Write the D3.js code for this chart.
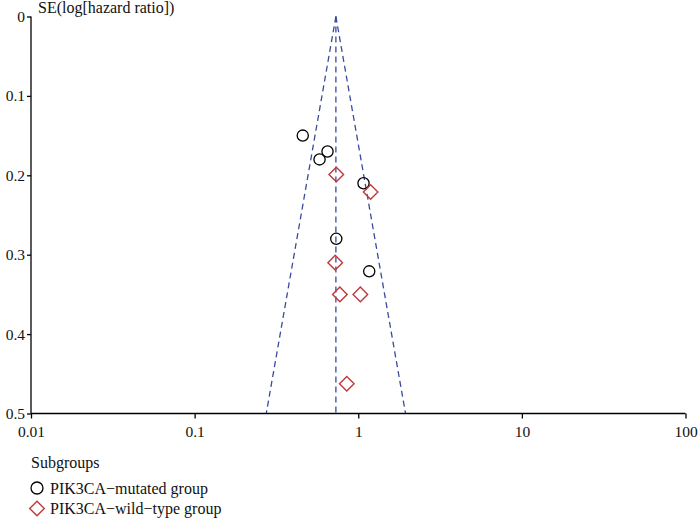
<!DOCTYPE html>
<html><head><meta charset="utf-8">
<script src="https://cdn.jsdelivr.net/npm/d3@7"></script>
<style>body{margin:0;background:#fff}svg{display:block}text{font-family:"Liberation Serif","DejaVu Serif",serif;fill:#111}</style>
</head><body><svg id="c" width="698" height="519"></svg>
<script>
const xTicks = [0.01, 0.1, 1, 10, 100];
const yTicks = [0, 0.1, 0.2, 0.3, 0.4, 0.5];
const pooledHR = 0.73;
const mutatedHR = [0.458, 0.649, 0.580, 1.077, 0.734, 1.167];
const mutatedSE = [0.150, 0.170, 0.180, 0.210, 0.280, 0.321];
const wildHR = [0.734, 1.19, 0.723, 0.772, 1.03, 0.851];
const wildSE = [0.199, 0.221, 0.310, 0.350, 0.350, 0.4625];
const legendLabels = ["PIK3CA\u2212mutated group", "PIK3CA\u2212wild\u2212type group"];

const svg = d3.select("#c");
const x = d3.scaleLog().domain([0.01, 100]).range([31, 685.5]);
const y = d3.scaleLinear().domain([0, 0.5]).range([16.5, 413.5]);

// funnel
const seMax = 0.5;
const funnel = [
  [[pooledHR, 0], [pooledHR * Math.exp(-1.96 * seMax), seMax]],
  [[pooledHR, 0], [pooledHR * Math.exp(1.96 * seMax), seMax]],
  [[pooledHR, 0], [pooledHR, seMax]]
];
const line = d3.line().x(d => x(d[0])).y(d => y(d[1]));
svg.append("g").selectAll("path").data(funnel).join("path")
  .attr("d", line).attr("fill", "none").attr("stroke", "#3b4a9c")
  .attr("stroke-width", 1.3).attr("stroke-dasharray", "6,4");

// axes
const yAxis = d3.axisLeft(y).tickValues(yTicks).tickSize(4).tickPadding(2)
  .tickFormat(d => d === 0 ? "0" : d3.format(".1f")(d));
const gy = svg.append("g").attr("transform", "translate(31,0)").call(yAxis);
const xAxis = d3.axisBottom(x).tickValues(xTicks).tickSize(5).tickPadding(7)
  .tickFormat(d => String(d));
const gx = svg.append("g").attr("transform", "translate(0,413.5)").call(xAxis);
[gx, gy].forEach(g => {
  g.select(".domain").attr("stroke", "#000").attr("stroke-width", 1.3);
  g.selectAll(".tick line").attr("stroke", "#000").attr("stroke-width", 1.3);
  g.selectAll("text").style("font-family", "Liberation Serif, serif").style("font-size", "15.5px").attr("fill", "#111");
});
gy.select(".domain").attr("d", "M0,16.5V413.5");
gx.select(".domain").attr("d", "M31,0H685.5");

svg.append("text").attr("x", 38).attr("y", 13).style("font-size", "16px").text("SE(log[hazard ratio])");

// points
const mutated = mutatedHR.map((h, i) => ({hr: h, se: mutatedSE[i]}));
const wild = wildHR.map((h, i) => ({hr: h, se: wildSE[i]}));
svg.append("g").selectAll("circle").data(mutated).join("circle")
  .attr("cx", d => x(d.hr)).attr("cy", d => y(d.se)).attr("r", 5.6)
  .attr("fill", "none").attr("stroke", "#000").attr("stroke-width", 1.3);
const diamond = "M0,-7.3L7.3,0L0,7.3L-7.3,0Z";
svg.append("g").selectAll("path").data(wild).join("path")
  .attr("transform", d => `translate(${x(d.hr)},${y(d.se)})`).attr("d", diamond)
  .attr("fill", "none").attr("stroke", "#c0393b").attr("stroke-width", 1.4);

// legend
const lg = svg.append("g");
lg.append("text").attr("x", 31).attr("y", 468).style("font-size", "16px").text("Subgroups");
lg.append("circle").attr("cx", 37).attr("cy", 488).attr("r", 6).attr("fill", "none").attr("stroke", "#000").attr("stroke-width", 1.3);
lg.append("path").attr("transform", "translate(37,508.5)").attr("d", diamond).attr("fill", "none").attr("stroke", "#c0393b").attr("stroke-width", 1.4);
lg.selectAll("text.l").data(legendLabels).join("text").attr("class", "l")
  .attr("x", 50).attr("y", (d, i) => 493.5 + i * 20.5).style("font-size", "16px").text(d => d);
</script></body></html>
